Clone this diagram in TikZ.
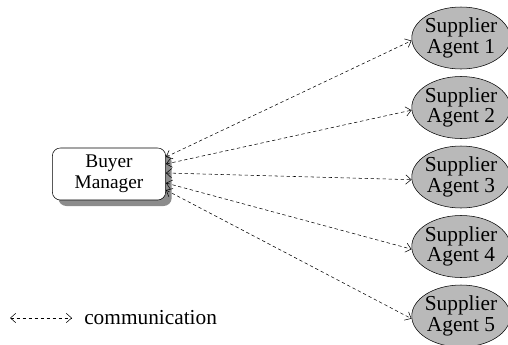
\documentclass[tikz,border=0pt]{standalone}
\usepackage{fontspec}
\setmainfont{Liberation Serif}
\usetikzlibrary{shapes.geometric,shadows,arrows.meta}

\begin{document}
\begin{tikzpicture}[x=0.75pt,y=-0.75pt,
 buyerbox/.style={draw,rounded corners=6pt,fill=white,minimum width=85pt,minimum height=39pt,
  align=center,font=\fontsize{14.5}{15.5}\selectfont,
  drop shadow={shadow xshift=4.5pt,shadow yshift=-4.5pt,fill=gray!90,opacity=1}},
 agent/.style={draw,ellipse,fill=gray!55,inner sep=-1pt,minimum width=72pt,minimum height=46.5pt,
  align=center,font=\fontsize{16}{15.5}\selectfont},
 commline/.style={dash pattern=on 2.5pt off 2pt,thin,
  {Straight Barb[length=4pt,width=7pt]}-{Straight Barb[length=4pt,width=7pt]}}]
 \useasboundingbox (0,0) rectangle (508,344);
 \node[buyerbox] (buyer) at (109,174) {Buyer\\Manager};
 \foreach \i/\y in {1/38,2/107.5,3/177,4/246.5,5/316}
  \node[agent] (a\i) at (461,\y) {Supplier\\Agent \i};
 \foreach \i/\o in {1/12.75pt,2/7.5pt,3/0.75pt,4/-6.75pt,5/-12pt}
  \draw[commline] ([yshift=\o]buyer.east) -- ([yshift=-2pt]a\i.west);
 \coordinate (legl) at (10,318);
 \coordinate (legr) at (72,318);
 \draw[commline] (legl) -- (legr);
 \node[anchor=west,inner sep=0pt,font=\fontsize{16}{16}\selectfont] (legend) at (84,318) {communication};
\end{tikzpicture}
\end{document}
